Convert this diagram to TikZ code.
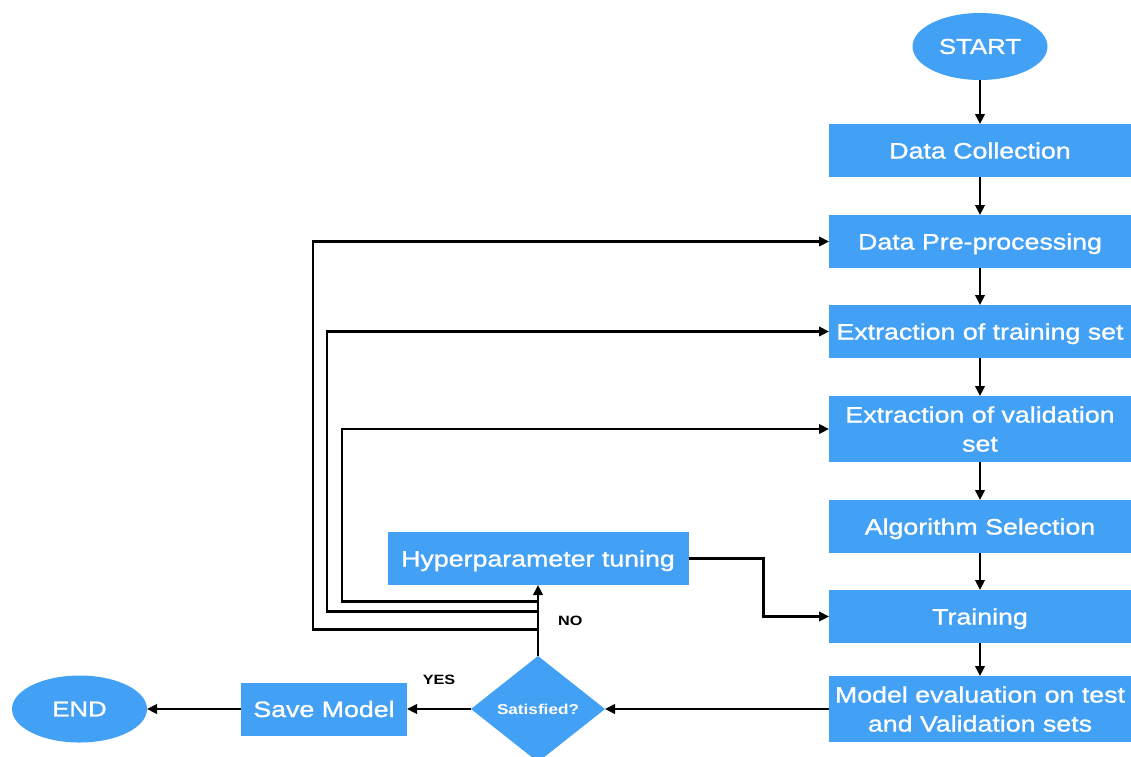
\documentclass[tikz,border=0pt]{standalone}
\usepackage{fontspec}
\setmainfont{Liberation Sans}[FakeStretch=1.2]
\newfontfamily\boxfont{Liberation Sans}[FakeStretch=1.2, FakeBold=1.2]
\usetikzlibrary{positioning,shapes.geometric,arrows.meta}
\definecolor{flowblue}{RGB}{66,160,245}

\tikzset{
  box/.style={rectangle, fill=flowblue, text=white, font=\boxfont\fontsize{22.3}{29}\selectfont,
    minimum height=53pt, inner sep=5pt, outer sep=0pt, text height=16pt, text depth=0pt, align=center},
  col/.style={box, text width=292pt},
  tall/.style={minimum height=66pt, text depth=29pt},
  term/.style={ellipse, fill=flowblue, text=white, font=\boxfont\fontsize{21.5}{25}\selectfont,
    minimum width=135pt, minimum height=67pt, inner sep=0pt, outer sep=0pt},
  ask/.style={diamond, fill=flowblue, text=white, font=\bfseries\fontsize{14.3}{17}\selectfont,
    minimum width=134pt, minimum height=106pt, inner sep=0pt, outer sep=0pt},
  lbl/.style={font=\bfseries\fontsize{13.5}{15}\selectfont, inner sep=0pt}
}

\begin{document}
\begin{tikzpicture}[line width=2.2pt, >={Triangle[length=10pt,width=9.5pt]}, node distance=38pt]
  \useasboundingbox (0,0) rectangle (1131pt,-756pt);

  % main column
  \node[term] (start) at (980pt,-46.5pt) {START};
  \node[col, below=44pt of start] (dc) {Data Collection};
  \node[col, below=of dc] (dp) {Data Pre-processing};
  \node[col, below=37pt of dp] (et) {Extraction of training set};
  \node[col, tall, below=of et] (ev) {Extraction of validation\\set};
  \node[col, below=of ev] (as) {Algorithm Selection};
  \node[col, below=37pt of as] (tr) {Training};
  \node[col, tall, below=33pt of tr] (me) {Model evaluation on test\\and Validation sets};

  % decision and bottom row
  \node[ask, left=224pt of me] (sat) {Satisfied?};
  \node[box, minimum width=166pt, left=64pt of sat] (save) {Save Model};
  \node[term, left=94pt of save] (end) {END};
  \node[box, minimum width=301pt, above=71pt of sat] (hp) {Hyperparameter tuning};

  \foreach \a/\b in {start/dc, dc/dp, dp/et, et/ev, ev/as, as/tr, tr/me}
    \draw[->] (\a) -- (\b);

  \draw[->] (me) -- (sat);
  \draw[->] (sat) -- node[lbl, above=23pt] {YES} (save);
  \draw[->] (save) -- (end);
  \draw[->] (sat) -- node[lbl, right=19pt] {NO} (hp);
  \draw[->] (hp.east) -- ++(75pt,0) |- (tr.west);

  % feedback loops
  \coordinate (j1) at ([yshift=26.5pt]sat.north);
  \coordinate (j2) at ([yshift=44.5pt]sat.north);
  \coordinate (j3) at ([yshift=54.5pt]sat.north);
  \draw[->] (j1) -| ([xshift=-516pt]dp.west) -- (dp.west);
  \draw[->] (j2) -| ([xshift=-502pt]et.west) -- (et.west);
  \draw[->] (j3) -| ([xshift=-487pt]ev.west) -- (ev.west);
\end{tikzpicture}
\end{document}
